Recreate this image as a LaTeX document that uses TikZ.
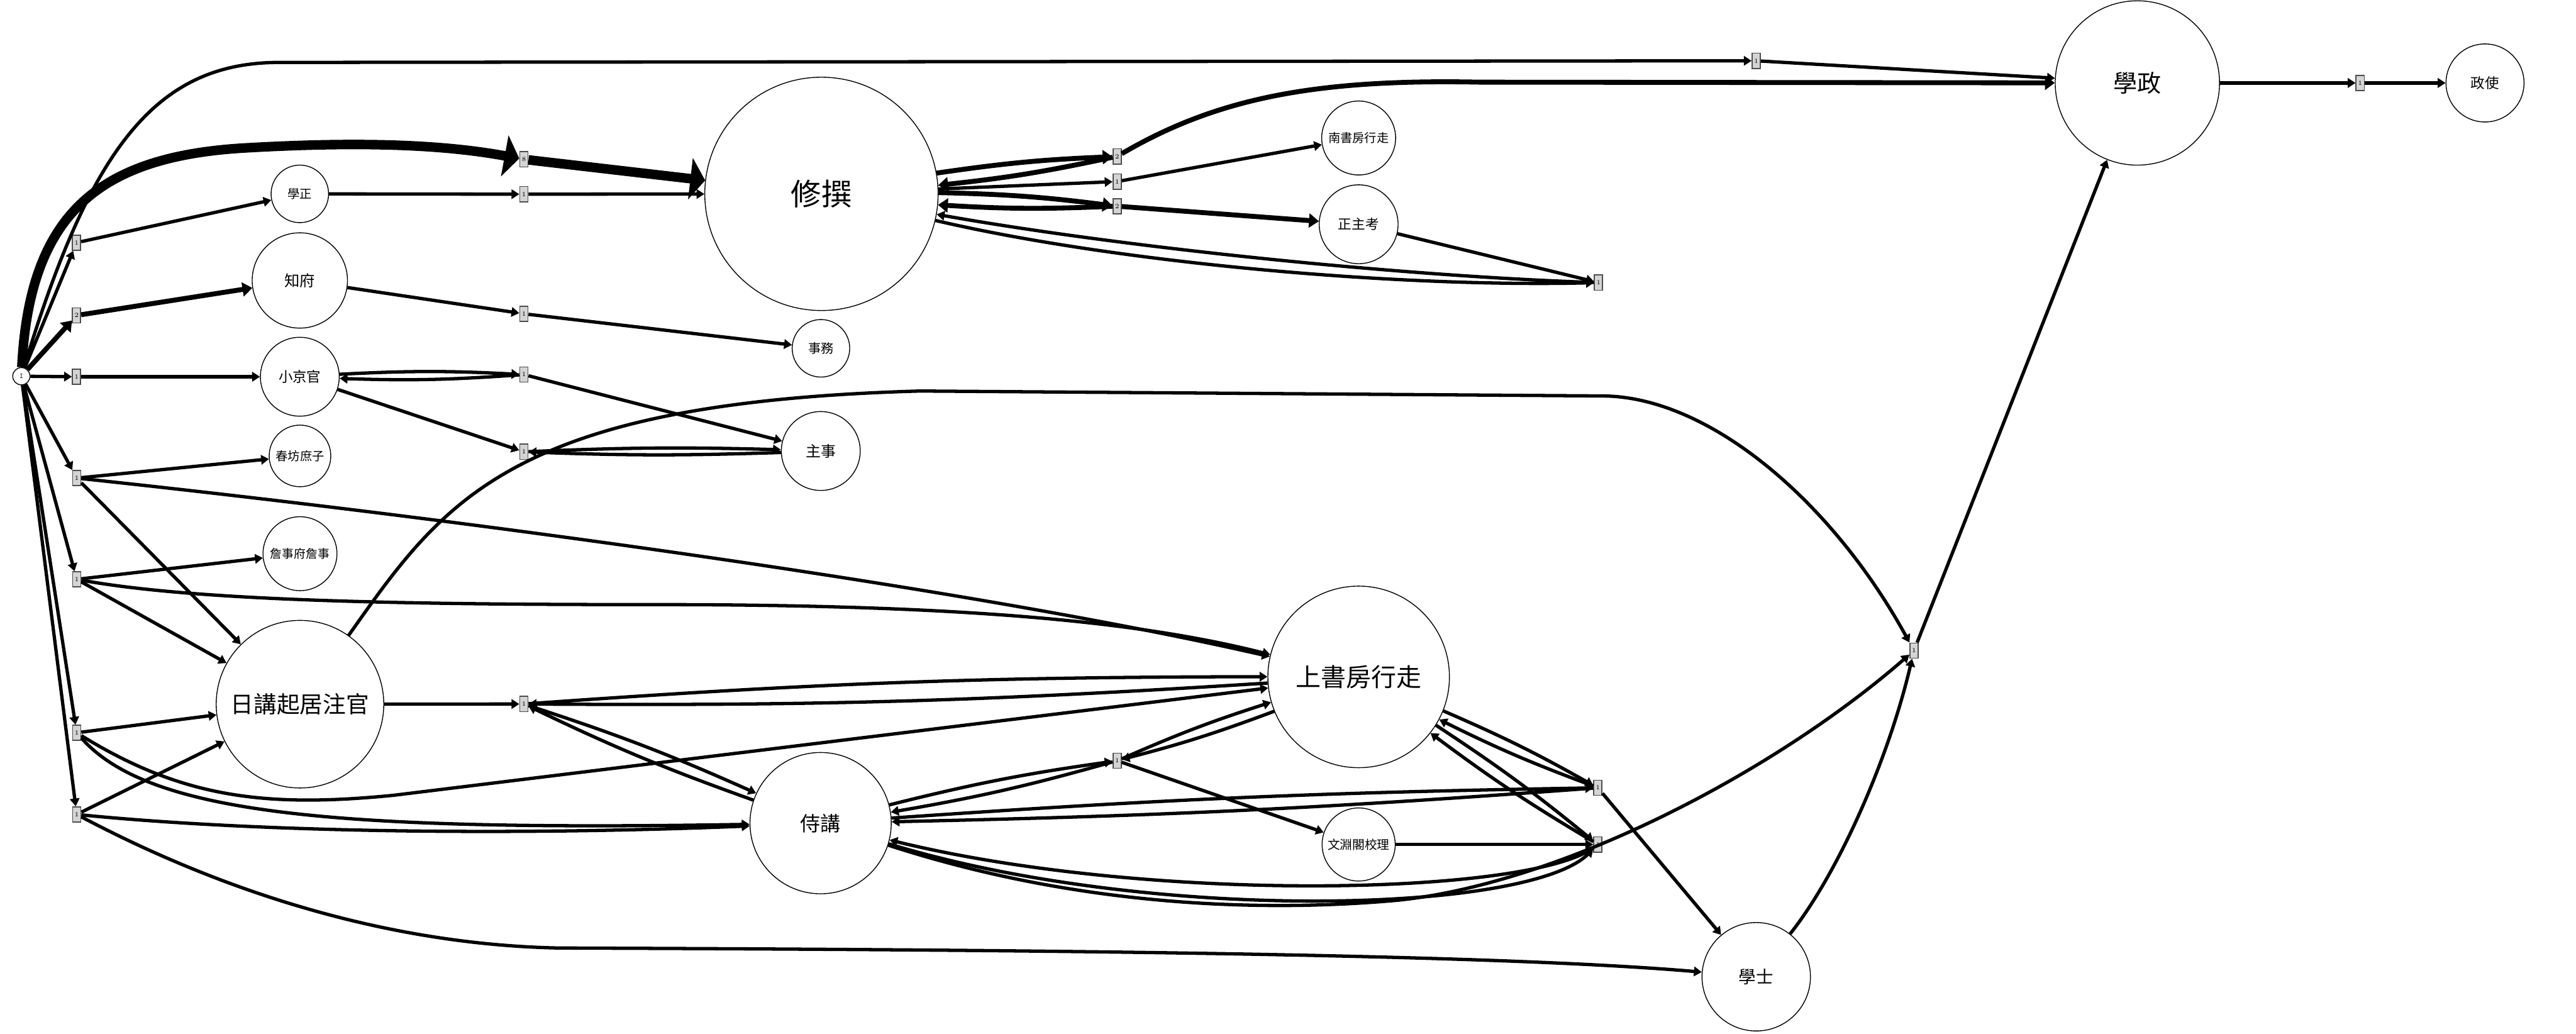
\documentclass[tikz,border=0pt]{standalone}
\usepackage{fontspec}
\newfontfamily\cjk{Noto Sans CJK TC}
\usetikzlibrary{arrows.meta}
\newcommand\cjksz[1]{\cjk\fontsize{#1}{#1}\selectfont}
\tikzset{
  pl/.style={draw, circle, line width=0.3pt, fill=white, inner sep=0pt},
  tr/.style={draw=black!70, fill=black!17, rectangle, line width=0.35pt, inner sep=0pt,
    minimum width=1mm, minimum height=1.85mm, font=\fontsize{2.2}{2.2}\selectfont},
  e1/.style={line width=1.15pt, -{Triangle[length=0.95mm,width=1.15mm]}},
  e2/.style={line width=1.7pt, -{Triangle[length=1.2mm,width=1.7mm]}},
  e8/.style={line width=3.3pt, -{Triangle[length=1.8mm,width=5mm]}}
}

\begin{document}
\begin{tikzpicture}[x=0.2mm, y=-0.2mm]
  \useasboundingbox (0,0) rectangle (1568,629);
  % places
  \node[pl, minimum size=2.1mm, font=\ttfamily\fontsize{2.4}{2.4}\selectfont] (init) at (13,229) {I};
  \node[pl, minimum size=7mm, font=\cjksz{4.2}] (xz) at (182.5,118) {學正};
  \node[pl, minimum size=11.6mm, font=\cjksz{5.3}] (zf) at (182.5,170.7) {知府};
  \node[pl, minimum size=9.6mm, font=\cjksz{4.9}] (xjg) at (182.5,229.3) {小京官};
  \node[pl, minimum size=7.5mm, font=\cjksz{4.2}] (cfsz) at (182.6,277.5) {春坊庶子};
  \node[pl, minimum size=9mm, font=\cjksz{4.1}] (zsf) at (182.6,337) {詹事府詹事};
  \node[pl, minimum size=20.4mm, font=\cjksz{8}] (rj) at (182.6,428.6) {日講起居注官};
  \node[pl, minimum size=28.4mm, font=\cjksz{10.5}] (xzh) at (500,118) {修撰};
  \node[pl, minimum size=7mm, font=\cjksz{4.4}] (sw) at (499.7,212) {事務};
  \node[pl, minimum size=9.6mm, font=\cjksz{5.2}] (zs) at (499.6,274.5) {主事};
  \node[pl, minimum size=9mm, font=\cjksz{4.2}] (nsf) at (827,84) {南書房行走};
  \node[pl, minimum size=9.6mm, font=\cjksz{4.7}] (zzk) at (827,136.5) {正主考};
  \node[pl, minimum size=20mm, font=\cjksz{8.3}] (xzg) at (1301,50.5) {學政};
  \node[pl, minimum size=9.5mm, font=\cjksz{4.9}] (zsh) at (1512.6,50.5) {政使};
  \node[pl, minimum size=22.1mm, font=\cjksz{8.7}] (ssf) at (827,412) {上書房行走};
  \node[pl, minimum size=17.2mm, font=\cjksz{7}] (sj) at (499.5,501) {侍講};
  \node[pl, minimum size=8.9mm, font=\cjksz{4.3}] (wyg) at (827,514) {文淵閣校理};
  \node[pl, minimum size=13.2mm, font=\cjksz{6}] (xs) at (1069,594.5) {學士};
  % transitions
  \node[tr] (t1) at (46.6,147.7) {1};
  \node[tr] (t2) at (46.6,192) {2};
  \node[tr] (t3) at (46.6,229.3) {1};
  \node[tr] (t4) at (46.7,291) {1};
  \node[tr] (t5) at (46.7,352.6) {1};
  \node[tr] (t6) at (46.7,446) {1};
  \node[tr] (t7) at (46.7,495.7) {1};
  \node[tr] (t8) at (318.9,118.2) {1};
  \node[tr] (t9) at (318.9,97) {8};
  \node[tr] (t10) at (318.9,191) {1};
  \node[tr] (t11) at (318.9,228) {1};
  \node[tr] (t12) at (318.9,275) {1};
  \node[tr] (t13) at (318.9,428.5) {1};
  \node[tr] (t14) at (680,95.2) {2};
  \node[tr] (t15) at (680,110.5) {1};
  \node[tr] (t16) at (680,125.5) {2};
  \node[tr] (t17) at (973,172) {1};
  \node[tr] (t18) at (1069,37) {1};
  \node[tr] (t19) at (1436.6,50.5) {1};
  \node[tr] (t20) at (1165,396) {1};
  \node[tr] (t21) at (680,463) {1};
  \node[tr] (t22) at (972.6,479.5) {1};
  \node[tr] (t23) at (972.6,514) {1};

  % out of the start place
  \draw[e1] (init) -- (t1);
  \draw[e2] (init) -- (t2);
  \draw[e1] (init) -- (t3);
  \draw[e1] (init) -- (t4);
  \draw[e1] (init) -- (t5);
  \draw[e1] (init) -- (t6);
  \draw[e1] (init) -- (t7);
  \draw[e8] (init) .. controls (18,130) and (60,95) .. (150,90) .. controls (220,86) and (270,88) .. (t9);
  \draw[e1] (init) .. controls (55,90) and (95,38) .. (170,38) -- (t18);

  % first column
  \draw[e1] (t1) -- (xz);
  \draw[e2] (t2) -- (zf);
  \draw[e1] (t3) -- (xjg);
  \draw[e1] (t4) -- (cfsz);
  \draw[e1] (t4) -- (rj);
  \draw[e1] (t4) .. controls (300,318) and (600,360) .. (ssf);
  \draw[e1] (t5) -- (zsf);
  \draw[e1] (t5) -- (rj);
  \draw[e1] (t5) .. controls (120,366) and (250,368) .. (400,368) .. controls (600,368) and (700,380) .. (ssf);
  \draw[e1] (t6) -- (rj);
  \draw[e1] (t6) .. controls (110,485) and (160,492) .. (240,484) -- (ssf);
  \draw[e1] (t6) .. controls (90,495) and (200,506) .. (sj);
  \draw[e1] (t7) -- (rj);
  \draw[e1] (t7) .. controls (150,506) and (300,509) .. (sj);
  \draw[e1] (t7) .. controls (140,545) and (240,575) .. (340,577) .. controls (600,578) and (900,580) .. (xs);

  % second column
  \draw[e1] (xz) -- (t8);
  \draw[e1] (t8) -- (xzh);
  \draw[e8] (t9) -- (xzh);
  \draw[e1] (zf) -- (t10);
  \draw[e1] (t10) -- (sw);
  \draw[e1] (xjg) to[bend left=3] (t11);
  \draw[e1] (t11) to[bend left=3] (xjg);
  \draw[e1] (t11) -- (zs);
  \draw[e1] (xjg) -- (t12);
  \draw[e1] (t12) to[bend left=2] (zs);
  \draw[e1] (zs) to[bend left=2] (t12);
  \draw[e1] (rj) -- (t13);
  \draw[e1] (t13) to[bend left=2] (ssf);
  \draw[e1] (ssf) to[bend left=2] (t13);
  \draw[e1] (t13) to[bend left=3] (sj);
  \draw[e1] (sj) to[bend left=3] (t13);
  \draw[e1] (rj) .. controls (270,305) and (310,245) .. (560,238) -- (975,241) .. controls (1040,241) and (1115,305) .. (t20);

  % around 修撰
  \draw[e2] (xzh) to[bend left=3] (t14);
  \draw[e2] (t14) to[bend left=3] (xzh);
  \draw[e2] (t14) .. controls (740,60) and (800,48) .. (900,50) -- (xzg);
  \draw[e1] (xzh) -- (t15);
  \draw[e1] (t15) -- (nsf);
  \draw[e2] (xzh) to[bend left=3] (t16);
  \draw[e2] (t16) to[bend left=3] (xzh);
  \draw[e2] (t16) -- (zzk);
  \draw[e1] (xzh) .. controls (680,160) and (850,175) .. (t17);
  \draw[e1] (t17) .. controls (850,168) and (680,150) .. (xzh);
  \draw[e1] (zzk) -- (t17);

  % 學政
  \draw[e1] (t18) -- (xzg);
  \draw[e1] (xzg) -- (t19);
  \draw[e1] (t19) -- (zsh);
  \draw[e1] (t20) -- (xzg);
  \draw[e1] (sj) .. controls (650,550) and (760,556) .. (850,548) .. controls (950,538) and (1080,470) .. (t20);
  \draw[e1] (xs) .. controls (1120,530) and (1150,460) .. (t20);

  % 侍講 and 上書房行走
  \draw[e1] (sj) to[bend left=3] (t21);
  \draw[e1] (t21) to[bend left=3] (sj);
  \draw[e1] (ssf) to[bend left=3] (t21);
  \draw[e1] (t21) to[bend left=3] (ssf);
  \draw[e1] (t21) -- (wyg);
  \draw[e1] (ssf) to[bend left=3] (t22);
  \draw[e1] (t22) to[bend left=3] (ssf);
  \draw[e1] (t22) to[bend left=1.5] (sj);
  \draw[e1] (sj) to[bend left=1.5] (t22);
  \draw[e1] (t22) -- (xs);
  \draw[e1] (wyg) -- (t23);
  \draw[e1] (ssf) to[bend left=3] (t23);
  \draw[e1] (t23) to[bend left=3] (ssf);
  \draw[e1] (t23) .. controls (930,545) and (700,550) .. (sj);
  \draw[e1] (sj) .. controls (700,562) and (930,556) .. (t23);
\end{tikzpicture}
\end{document}
